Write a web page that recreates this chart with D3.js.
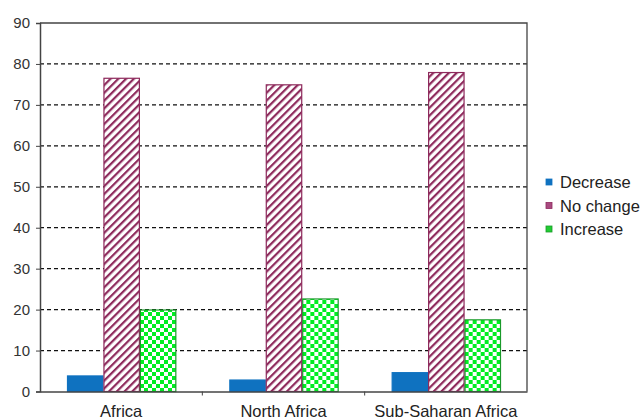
<!DOCTYPE html>
<html><head><meta charset="utf-8">
<script src="https://cdn.jsdelivr.net/npm/d3@7"></script>
<style>body{margin:0;background:#fff;}svg{display:block;font-family:Arial,"Liberation Sans",sans-serif;}</style>
</head><body>
<svg id="c" width="642" height="419"></svg>
<script>
const categories = ["Africa", "North Africa", "Sub-Saharan Africa"];
const seriesNames = ["Decrease", "No change", "Increase"];
const decrease = [3.8, 2.8, 4.6];
const noChange = [76.5, 74.9, 77.9];
const increase = [19.9, 22.6, 17.5];
const yTicks = [0, 10, 20, 30, 40, 50, 60, 70, 80, 90];

const seriesValues = [decrease, noChange, increase];
const svg = d3.select("#c");
const m = {left: 40, top: 23, right: 527, bottom: 391.5};
const FONT = "Arial, 'Liberation Sans', sans-serif";

const defs = svg.append("defs");
const stripe = defs.append("pattern").attr("id", "stripe").attr("patternUnits", "userSpaceOnUse")
  .attr("width", 5.5).attr("height", 5.5).attr("patternTransform", "rotate(45)");
stripe.append("rect").attr("width", 5.5).attr("height", 5.5).attr("fill", "#fff");
stripe.append("rect").attr("width", 2.2).attr("height", 5.5).attr("fill", "#8e2a5c");
const checker = defs.append("pattern").attr("id", "checker").attr("patternUnits", "userSpaceOnUse")
  .attr("width", 8).attr("height", 8);
checker.append("rect").attr("width", 8).attr("height", 8).attr("fill", "#00ee22");
checker.append("rect").attr("width", 4).attr("height", 4).attr("fill", "#fff");
checker.append("rect").attr("x", 4).attr("y", 4).attr("width", 4).attr("height", 4).attr("fill", "#fff");

const fills = ["#0f72c0", "url(#stripe)", "url(#checker)"];
const strokes = ["#0f72c0", "#8e2a5c", "#1a9a2a"];
const legendFills = ["#0f72c0", "#a84a80", "#22cc33"];

const y = d3.scaleLinear().domain([0, 90]).range([m.bottom, m.top]);
const x0 = d3.scaleBand().domain(categories).range([m.left, m.right]).paddingInner(0).paddingOuter(0);
const x1 = d3.scaleBand().domain(seriesNames).range([27, x0.bandwidth() - 26]);

// gridlines
svg.append("g").selectAll("line").data(yTicks.filter(t => t > 0 && t < 90)).join("line")
  .attr("x1", m.left).attr("x2", m.right).attr("y1", d => y(d)).attr("y2", d => y(d))
  .attr("stroke", "#111").attr("stroke-width", 1.2).attr("stroke-dasharray", "4,3");

// frame top/right
svg.append("path").attr("d", `M${m.left},${y(90)}H${m.right}V${m.bottom}`)
  .attr("fill", "none").attr("stroke", "#444").attr("stroke-width", 1.3);

// bars
const groups = svg.append("g").selectAll("g").data(categories).join("g")
  .attr("transform", d => `translate(${x0(d)},0)`);
groups.selectAll("rect").data((d, i) => seriesNames.map((s, j) => ({s, j, v: seriesValues[j][i]}))).join("rect")
  .attr("x", d => x1(d.s) + 0.5).attr("width", x1.bandwidth() - 1)
  .attr("y", d => y(d.v)).attr("height", d => y(0) - y(d.v))
  .attr("fill", d => fills[d.j]).attr("stroke", d => strokes[d.j]).attr("stroke-width", 1.2);

// axes
const yAxis = svg.append("g").attr("transform", `translate(${m.left},0)`)
  .call(d3.axisLeft(y).tickValues(yTicks).tickSize(4).tickPadding(6));
yAxis.select(".domain").attr("stroke", "#444").attr("stroke-width", 1.5);
yAxis.selectAll(".tick line").attr("stroke", "#444");
yAxis.selectAll("text").attr("font-size", 15).attr("fill", "#333").attr("font-family", FONT);

const xAxis = svg.append("g").attr("transform", `translate(0,${m.bottom})`)
  .call(d3.axisBottom(x0).tickSize(0).tickPadding(14));
xAxis.select(".domain").attr("stroke", "#444").attr("stroke-width", 1.5);
xAxis.selectAll("text").attr("font-size", 16.5).attr("fill", "#222").attr("font-family", FONT);
svg.append("g").selectAll("line").data(categories.slice(1)).join("line")
  .attr("x1", d => x0(d)).attr("x2", d => x0(d)).attr("y1", m.bottom).attr("y2", m.bottom + 4)
  .attr("stroke", "#444");

// legend
const lg = svg.append("g").attr("transform", "translate(546,182)");
const li = lg.selectAll("g").data(seriesNames).join("g").attr("transform", (d, i) => `translate(0,${i * 23.5})`);
li.append("rect").attr("x", 0).attr("y", -3).attr("width", 6).attr("height", 6)
  .attr("fill", (d, i) => legendFills[i]).attr("stroke", (d, i) => strokes[i]).attr("stroke-width", 0.8);
li.append("text").attr("x", 14).attr("y", 6).attr("font-size", 16.5).attr("fill", "#222").attr("font-family", FONT).text(d => d);
</script>
</body></html>
